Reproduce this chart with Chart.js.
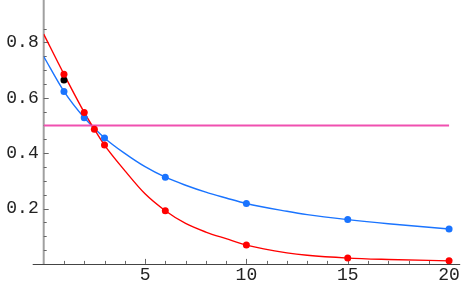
<!DOCTYPE html>
<html><head><meta charset="utf-8">
<script src="https://cdn.jsdelivr.net/npm/chart.js@4/dist/chart.umd.min.js"></script>
<style>html,body{margin:0;padding:0;background:#fff}canvas{display:block}</style>
</head><body>
<canvas id="c" width="464" height="287"></canvas>
<script>
// Sampled points (markers)
const redPtsX = [1, 2, 2.5, 3, 6, 10, 15, 20];
const redPtsY = [0.685, 0.547, 0.486, 0.429, 0.192, 0.068, 0.021, 0.011];
const bluePtsX = [1, 2, 3, 6, 10, 15, 20];
const bluePtsY = [0.623, 0.528, 0.455, 0.313, 0.218, 0.160, 0.126];
const blackPtX = [1];
const blackPtY = [0.664];
// Curves
const redCurveX = [0, 1, 2, 2.5, 3, 4, 5, 6, 7, 8, 9, 10, 12, 13, 15, 17, 20];
const redCurveY = [0.83, 0.685, 0.547, 0.486, 0.429, 0.337, 0.253, 0.192, 0.146, 0.115, 0.091, 0.068, 0.040, 0.031, 0.021, 0.016, 0.011];
const blueCurveX = [0, 1, 2, 3, 4, 5, 6, 7, 8, 9, 10, 12, 13, 15, 17, 20];
const blueCurveY = [0.749, 0.623, 0.528, 0.455, 0.399, 0.351, 0.313, 0.284, 0.259, 0.238, 0.218, 0.190, 0.178, 0.160, 0.145, 0.126];
const refLineX = [0, 20];
const refLineY = [0.5, 0.5];
// Axis ticks
const xMajorTicks = [5, 10, 15, 20];
const yMajorTicks = [0.2, 0.4, 0.6, 0.8];

const zip = (xs, ys) => xs.map((x, i) => ({x, y: ys[i]}));
const RED = '#ff0000', BLUE = '#1a74ff', PINK = '#f050b0';

const axesPlugin = {
  id: 'mmaAxes',
  beforeDatasetsDraw(chart) {
    const ctx = chart.ctx, xs = chart.scales.x, ys = chart.scales.y;
    const x0 = xs.getPixelForValue(0), y0 = ys.getPixelForValue(0);
    ctx.save();
    // y axis (gray, thicker)
    ctx.strokeStyle = '#a0a0a0'; ctx.lineWidth = 2;
    ctx.beginPath(); ctx.moveTo(x0, 0); ctx.lineTo(x0, y0); ctx.stroke();
    // x axis
    ctx.strokeStyle = '#444'; ctx.lineWidth = 1;
    ctx.beginPath(); ctx.moveTo(x0 - 11, Math.round(y0) + 0.5); ctx.lineTo(chart.chartArea.right + 1, Math.round(y0) + 0.5); ctx.stroke();
    // ticks
    ctx.strokeStyle = '#666'; ctx.lineWidth = 1;
    xs.ticks.forEach(t => {
      if (t.value <= 0) return;
      const px = Math.round(xs.getPixelForValue(t.value)) + 0.5;
      const len = xMajorTicks.includes(t.value) ? 5 : 3;
      ctx.beginPath(); ctx.moveTo(px, y0); ctx.lineTo(px, y0 - len); ctx.stroke();
    });
    ys.ticks.forEach(t => {
      if (t.value <= 0) return;
      const py = Math.round(ys.getPixelForValue(t.value)) + 0.5;
      const major = yMajorTicks.some(v => Math.abs(v - t.value) < 1e-6);
      const len = major ? 5 : 3;
      ctx.beginPath(); ctx.moveTo(x0, py); ctx.lineTo(x0 + len, py); ctx.stroke();
    });
    ctx.restore();
  }
};

new Chart(document.getElementById('c'), {
  type: 'scatter',
  data: {
    datasets: [
      {data: zip(redPtsX, redPtsY), pointRadius: 3.5, pointBackgroundColor: RED, pointBorderWidth: 0, showLine: false},
      {data: zip(bluePtsX, bluePtsY), pointRadius: 3.5, pointBackgroundColor: BLUE, pointBorderWidth: 0, showLine: false},
      {data: zip(blackPtX, blackPtY), pointRadius: 3.5, pointBackgroundColor: '#000', pointBorderWidth: 0, showLine: false},
      {data: zip(refLineX, refLineY), showLine: true, pointRadius: 0, borderColor: PINK, borderWidth: 2},
      {data: zip(redCurveX, redCurveY), showLine: true, pointRadius: 0, borderColor: RED, borderWidth: 1.4, cubicInterpolationMode: 'monotone'},
      {data: zip(blueCurveX, blueCurveY), showLine: true, pointRadius: 0, borderColor: BLUE, borderWidth: 1.4, cubicInterpolationMode: 'monotone'}
    ]
  },
  options: {
    responsive: false,
    animation: false,
    layout: {padding: {left: 0, right: 4.8, top: 0, bottom: 0}},
    plugins: {legend: {display: false}, tooltip: {enabled: false}},
    scales: {
      x: {
        type: 'linear', min: 0, max: 20.5,
        grid: {display: false, drawTicks: false, tickLength: 0}, border: {display: false},
        afterBuildTicks: s => { const t = []; for (let i = 0; i <= 20; i++) t.push({value: i}); s.ticks = t; },
        afterFit: s => { s.height = 23.1; },
        ticks: {
          autoSkip: false, maxRotation: 0, padding: 1, color: '#222',
          font: {family: '"Liberation Mono", monospace', size: 18},
          callback: v => xMajorTicks.includes(v) ? String(v) : ''
        }
      },
      y: {
        type: 'linear', min: 0, max: 0.896,
        grid: {display: false, drawTicks: false, tickLength: 0}, border: {display: false},
        afterBuildTicks: s => { const t = []; for (let i = 0; i <= 17; i++) t.push({value: +(i * 0.05).toFixed(2)}); s.ticks = t; },
        afterFit: s => { s.width = 43.7; },
        ticks: {
          autoSkip: false, padding: 5, color: '#222',
          font: {family: '"Liberation Mono", monospace', size: 18},
          callback: v => yMajorTicks.some(m => Math.abs(m - v) < 1e-6) ? v.toFixed(1) : ''
        }
      }
    }
  },
  plugins: [axesPlugin]
});
</script>
</body></html>
